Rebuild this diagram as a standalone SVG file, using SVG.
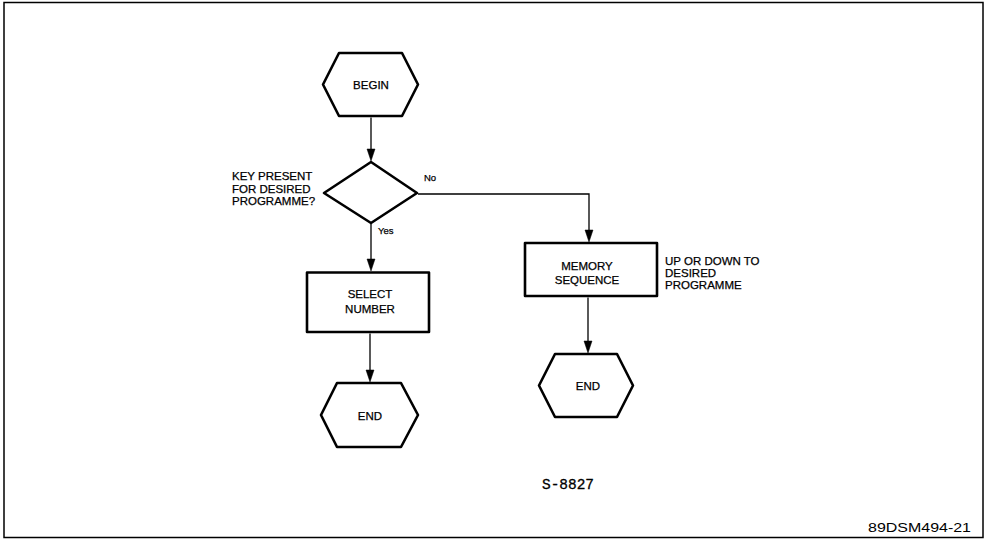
<svg xmlns="http://www.w3.org/2000/svg" width="987" height="540" viewBox="0 0 987 540">
<defs>
<style>
.shape{fill:#fff;stroke:#000;stroke-width:2.6;stroke-linejoin:round}
.conn{fill:none;stroke:#000;stroke-width:1.3}
.head{fill:#000;stroke:#000;stroke-width:0.5}
.t{font-family:"Liberation Sans",Arial,sans-serif;font-size:11.5px;fill:#000;stroke:#000;stroke-width:0.25}
.c{text-anchor:middle}
.s{font-size:9.5px}
</style>
</defs>
<rect width="987" height="540" fill="#fff"/>
<rect x="4" y="2.5" width="979" height="535" fill="none" stroke="#000" stroke-width="1.5"/>

<g id="begin">
<polygon class="shape" points="339,53 402,53 418,84.5 402,116 339,116 323,84.5"/>
<text class="t c" x="371" y="89">BEGIN</text>
</g>

<g id="decision">
<polygon class="shape" points="371,162 417,193 371,223 324,193"/>
<text class="t" x="232" y="180">KEY PRESENT</text>
<text class="t" x="232" y="192.5">FOR DESIRED</text>
<text class="t" x="232" y="205">PROGRAMME?</text>
<text class="t s" x="424" y="181">No</text>
<text class="t s" x="378" y="234">Yes</text>
</g>

<g id="select">
<rect class="shape" x="307" y="272.5" width="122" height="59.5"/>
<text class="t c" x="370" y="297.5">SELECT</text>
<text class="t c" x="370" y="313">NUMBER</text>
</g>

<g id="end-left">
<polygon class="shape" points="337,383 401,383 418,415 401,447 337,447 321,415"/>
<text class="t c" x="370" y="419.5">END</text>
</g>

<g id="memory">
<rect class="shape" x="525" y="243" width="132" height="53"/>
<text class="t c" x="587" y="270">MEMORY</text>
<text class="t c" x="587" y="284">SEQUENCE</text>
<text class="t" x="665" y="265">UP OR DOWN TO</text>
<text class="t" x="665" y="277">DESIRED</text>
<text class="t" x="665" y="289">PROGRAMME</text>
</g>

<g id="end-right">
<polygon class="shape" points="555,354 617,354 633,385.5 617,417 555,417 539,385.5"/>
<text class="t c" x="588" y="390">END</text>
</g>

<g id="connectors">
<line class="conn" x1="371" y1="117.5" x2="371" y2="152"/>
<polygon class="head" points="367,149 375,149 371,161"/>
<line class="conn" x1="371" y1="224" x2="371" y2="262"/>
<polygon class="head" points="367,259 375,259 371,271"/>
<line class="conn" x1="370" y1="333.5" x2="370" y2="373"/>
<polygon class="head" points="366,370 374,370 370,382"/>
<polyline class="conn" points="418,194 589,194 589,233"/>
<polygon class="head" points="585,230 593,230 589,242"/>
<line class="conn" x1="588" y1="297.5" x2="588" y2="344"/>
<polygon class="head" points="584,341 592,341 588,353"/>
</g>

<text x="542" y="489" font-family="'Liberation Mono','DejaVu Sans Mono',monospace" font-size="14" stroke="#000" stroke-width="0.3" textLength="52" lengthAdjust="spacingAndGlyphs">S-8827</text>
<text x="868" y="532" font-family="'Liberation Sans',Arial,sans-serif" font-size="13" textLength="103" lengthAdjust="spacingAndGlyphs">89DSM494-21</text>
</svg>
